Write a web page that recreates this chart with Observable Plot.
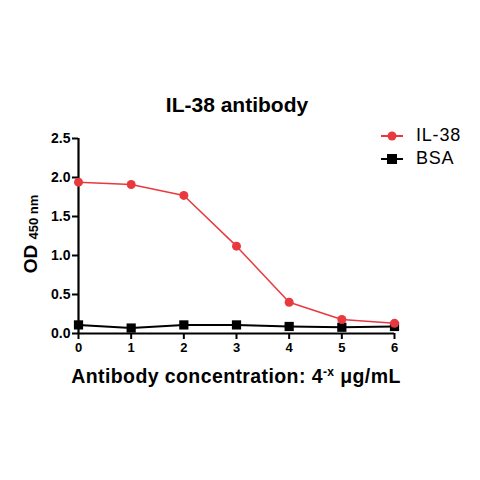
<!DOCTYPE html>
<html><head><meta charset="utf-8">
<script src="https://cdn.jsdelivr.net/npm/d3@7"></script>
<script src="https://cdn.jsdelivr.net/npm/@observablehq/plot@0.6"></script>
<style>
body{margin:0;background:#fff;font-family:"Liberation Sans",Arial,sans-serif;}
#wrap{position:relative;width:480px;height:480px;}
#title{position:absolute;left:0;width:474px;top:92px;text-align:center;font-weight:bold;font-size:21px;line-height:26px;}
#xlabel{position:absolute;left:0;width:472px;top:364px;text-align:center;font-weight:bold;font-size:19.5px;line-height:24px;letter-spacing:0.4px;}
#xlabel sup{font-size:12px;vertical-align:7px;line-height:0;}
#ylabel{position:absolute;left:31px;top:234px;transform:translate(-50%,-50%) rotate(-90deg);white-space:nowrap;font-weight:bold;font-size:19px;}
#ylabel sub{font-size:13px;vertical-align:-1px;}
#legend{position:absolute;left:381px;top:124px;font-size:18px;letter-spacing:0.8px;}
.li{display:flex;align-items:center;height:23px;}
.li svg{margin-right:13px;}
</style>
</head><body>
<div id="wrap">
<div id="title">IL-38 antibody</div>
<div id="chart"></div>
<div id="xlabel">Antibody concentration: 4<sup>-x</sup> μg/mL</div>
<div id="ylabel">OD <sub>450 nm</sub></div>
<div id="legend"></div>
</div>
<script>
const xs = [0, 1, 2, 3, 4, 5, 6];
const il38 = [1.94, 1.91, 1.77, 1.12, 0.40, 0.18, 0.13];
const bsa = [0.11, 0.07, 0.11, 0.11, 0.09, 0.08, 0.09];
const seriesNames = ["IL-38", "BSA"];
const yTicks = [0, 0.5, 1.0, 1.5, 2.0, 2.5];
const xTicks = [0, 1, 2, 3, 4, 5, 6];
const red = "#e8393f";

const il = xs.map((x, i) => ({x, y: il38[i]}));
const bs = xs.map((x, i) => ({x, y: bsa[i]}));

const plot = Plot.plot({
  width: 480, height: 480,
  marginLeft: 78, marginRight: 86, marginTop: 138, marginBottom: 147,
  style: {fontFamily: "'Liberation Sans', Arial, sans-serif", fontSize: "13px", fontWeight: "bold", color: "#000", background: "transparent"},
  x: {domain: [0, 6]},
  y: {domain: [0, 2.5]},
  marks: [
    Plot.axisY({ticks: yTicks, tickFormat: d3.format(".1f"), tickSize: 6, tickPadding: 2, strokeWidth: 2, label: null, fontSize: 14}),
    Plot.axisX({ticks: xTicks, tickFormat: d3.format("d"), tickSize: 6, tickPadding: 3, strokeWidth: 2, label: null, fontSize: 13}),
    Plot.ruleX([0], {stroke: "#000", strokeWidth: 2.2}),
    Plot.ruleY([0], {stroke: "#000", strokeWidth: 2.2}),
    Plot.line(bs, {x: "x", y: "y", stroke: "#000", strokeWidth: 2}),
    Plot.dot(bs, {x: "x", y: "y", symbol: "square", r: 5.2, fill: "#000"}),
    Plot.line(il, {x: "x", y: "y", stroke: red, strokeWidth: 1.5}),
    Plot.dot(il, {x: "x", y: "y", symbol: "circle", r: 4.5, fill: red})
  ]
});
document.getElementById("chart").appendChild(plot);

const leg = document.getElementById("legend");
seriesNames.forEach((name, i) => {
  const c = i === 0 ? red : "#000";
  const marker = i === 0 ? `<circle cx="11" cy="6" r="4.5" fill="${c}"/>` : `<rect x="6" y="1" width="10" height="10" fill="${c}"/>`;
  const div = document.createElement("div");
  div.className = "li";
  div.innerHTML = `<svg width="22" height="12"><line x1="0" x2="22" y1="6" y2="6" stroke="${c}" stroke-width="2"/>${marker}</svg><span>${name}</span>`;
  leg.appendChild(div);
});
</script>
</body></html>
